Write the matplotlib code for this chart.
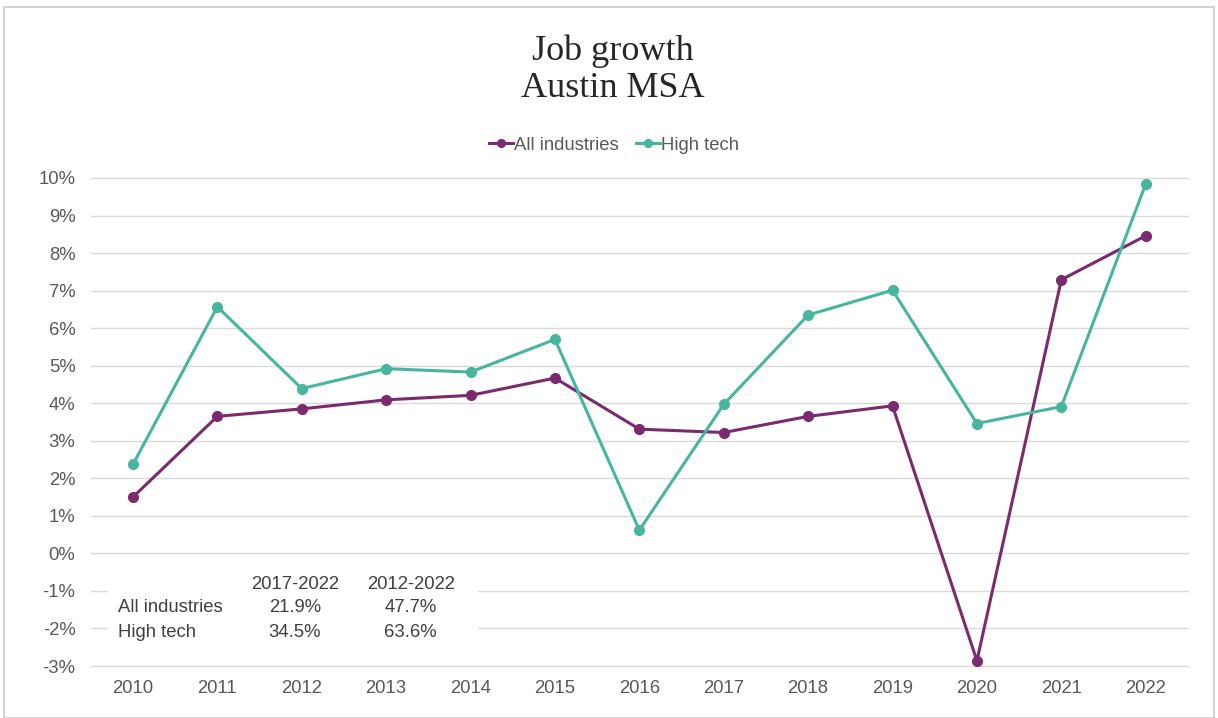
import matplotlib
matplotlib.use("Agg")
import matplotlib.pyplot as plt
from matplotlib.patches import Rectangle
from matplotlib.ticker import FuncFormatter

years = ["2010", "2011", "2012", "2013", "2014", "2015", "2016",
         "2017", "2018", "2019", "2020", "2021", "2022"]
all_industries = [1.50, 3.65, 3.85, 4.09, 4.21, 4.67, 3.31,
                  3.22, 3.65, 3.93, -2.86, 7.29, 8.46]
high_tech = [2.37, 6.57, 4.39, 4.92, 4.83, 5.70, 0.62,
             3.97, 6.35, 7.01, 3.46, 3.91, 9.84]

table_cols = ["2017-2022", "2012-2022"]
table_rows = ["All industries", "High tech"]
table_vals = [["21.9%", "47.7%"], ["34.5%", "63.6%"]]

title_lines = ["Job growth", "Austin MSA"]
purple = "#7b2a6d"
teal = "#48b59f"
gray_txt = "#595959"
FS = 13.3

plt.rcParams["font.family"] = ["Liberation Sans", "DejaVu Sans"]

fig = plt.figure(figsize=(12.18, 7.18), dpi=100)
ax = fig.add_axes([0.0745, 0.0724, 0.9008, 0.6797])

x = list(range(len(years)))
ax.plot(x, all_industries, color=purple, lw=2.2, marker="o", ms=7,
        label="All industries", zorder=3)
ax.plot(x, high_tech, color=teal, lw=2.2, marker="o", ms=7,
        label="High tech", zorder=3)

ax.set_xlim(-0.5, len(years) - 0.5)
ax.set_ylim(-3, 10)
ax.set_yticks(range(-3, 11))
ax.yaxis.set_major_formatter(FuncFormatter(lambda v, p: f"{int(v)}%"))
ax.set_xticks(x)
ax.set_xticklabels(years)
ax.grid(axis="y", color="#d9d9d9", lw=1)
ax.set_axisbelow(True)
for gl in ax.get_ygridlines():
    gl.set_clip_on(False)
for s in ax.spines.values():
    s.set_visible(False)
ax.tick_params(axis="both", length=0, labelsize=FS, colors=gray_txt)
ax.tick_params(axis="y", pad=11)
ax.tick_params(axis="x", pad=10)

# legend
leg = fig.legend(loc="center", bbox_to_anchor=(614 / 1218, 1 - 145 / 718), ncol=2,
                 frameon=False, fontsize=FS, handlelength=1.3,
                 handletextpad=0.05, columnspacing=0.95, markerscale=0.8)
for t in leg.get_texts():
    t.set_color(gray_txt)

# title
for i, line in enumerate(title_lines):
    fig.text(613 / 1218, 1 - (60 + 37 * i) / 718, line, ha="center", va="baseline",
             fontsize=26, family="Liberation Serif", color="#262626")

# summary table
box = Rectangle((-0.30, -2.44), 4.39, 1.87, facecolor="white", edgecolor="none", zorder=2)
ax.add_patch(box)
tc = "#404040"
col_x = [1.92, 3.29]
for cx, lab in zip(col_x, table_cols):
    ax.text(cx, -0.82, lab, ha="center", va="center", fontsize=FS, color=tc, zorder=4)
row_y = [-1.45, -2.12]
for ry, rlab, vals in zip(row_y, table_rows, table_vals):
    ax.text(-0.18, ry, rlab, ha="left", va="center", fontsize=FS, color=tc, zorder=4)
    for cx, v in zip(col_x, vals):
        ax.text(cx, ry, v, ha="center", va="center", fontsize=FS, color=tc, zorder=4)

# outer border
fig.patches.append(Rectangle((0.003, 0.0), 0.994, 0.99, transform=fig.transFigure,
                             fill=False, edgecolor="#c8c8c8", lw=1.2))

fig.savefig("out.png", dpi=100)
